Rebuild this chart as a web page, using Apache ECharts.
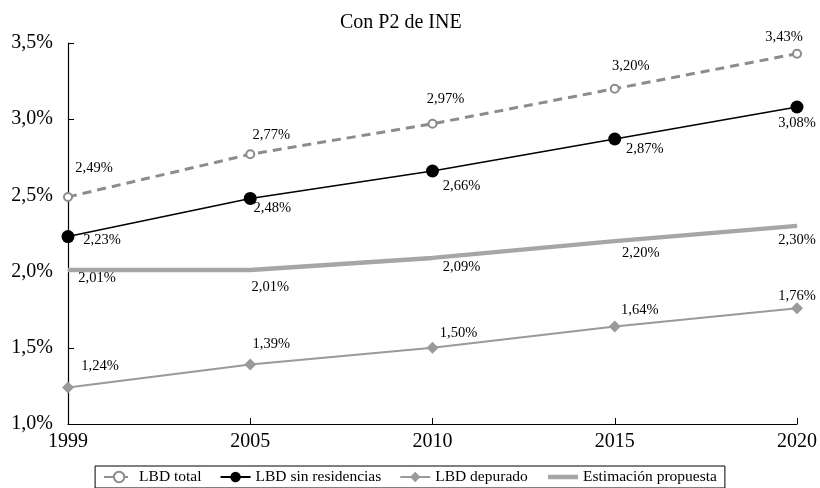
<!DOCTYPE html>
<html>
<head>
<meta charset="utf-8">
<script src="https://cdn.jsdelivr.net/npm/echarts@6/dist/echarts.min.js"></script>
<style>
  html, body { margin: 0; padding: 0; background: #fff; }
  #chart { width: 820px; height: 488px; }
</style>
</head>
<body>
<div id="chart"></div>
<script>
// categorias y valores (en %)
var years = ['1999', '2005', '2010', '2015', '2020'];
var lbdTotal = [2.49, 2.77, 2.97, 3.20, 3.43];
var lbdSinRes = [2.23, 2.48, 2.66, 2.87, 3.08];
var lbdDepurado = [1.24, 1.39, 1.50, 1.64, 1.76];
var estimacion = [2.01, 2.01, 2.09, 2.20, 2.30];

// desplazamientos de las etiquetas (solo estilo)
var offTotal = [[26, -29], [21, -19], [13, -25], [16, -23], [-13, -16]];
var offSin = [[34, 4], [22, 10], [29, 15], [30, 10], [0, 16]];
var offDep = [[32, -21], [21, -20], [26, -15], [25, -16], [0, -12]];
var offEst = [[29, 8], [20, 17], [29, 9], [26, 12], [0, 14]];

var FONT = '"Liberation Serif", "Times New Roman", serif';

function fmt(v) {
    return v.toFixed(2).replace('.', ',') + '%';
}
function withLabels(values, offsets) {
    return values.map(function (v, i) {
        return {
            value: v,
            label: { offset: offsets[i] }
        };
    });
}
var labelBase = {
    show: true,
    position: 'inside',
    fontFamily: FONT,
    fontSize: 14.5,
    color: '#000',
    formatter: function (p) { return fmt(p.value); }
};

var chart = echarts.init(document.getElementById('chart'));
var option = {
    animation: false,
    backgroundColor: '#fff',
    title: {
        text: 'Con P2 de INE',
        left: 335,
        top: 8,
        textStyle: { fontFamily: FONT, fontSize: 20, fontWeight: 'normal', color: '#000' }
    },
    grid: { left: 68, right: 21, top: 43, bottom: 64 },
    legend: {
        top: 466,
        left: 'center',
        padding: [3, 8],
        borderColor: '#000',
        borderWidth: 1,
        itemWidth: 30,
        itemHeight: 13,
        itemGap: 18,
        textStyle: { fontFamily: FONT, fontSize: 15.5, color: '#000' },
        data: [
            'LBD total',
            'LBD sin residencias',
            'LBD depurado',
            { name: 'Estimación propuesta', itemStyle: { opacity: 0 }, lineStyle: { width: 4.5 } }
        ]
    },
    xAxis: {
        type: 'category',
        data: years,
        boundaryGap: false,
        axisLine: { lineStyle: { color: '#000', width: 1.2 } },
        axisTick: { show: true, inside: true, length: 6, lineStyle: { color: '#000' } },
        axisLabel: { fontFamily: FONT, fontSize: 20, color: '#000', margin: 8 }
    },
    yAxis: {
        type: 'value',
        min: 1,
        max: 3.5,
        interval: 0.5,
        splitLine: { show: false },
        axisLine: { show: true, lineStyle: { color: '#000', width: 1.2 } },
        axisTick: { show: true, inside: true, length: 6, lineStyle: { color: '#000' } },
        axisLabel: {
            fontFamily: FONT, fontSize: 20, color: '#000', margin: 15,
            formatter: function (v) { return v.toFixed(1).replace('.', ',') + '%'; }
        }
    },
    series: [
        {
            name: 'LBD total',
            type: 'line',
            data: withLabels(lbdTotal, offTotal),
            symbol: 'emptyCircle',
            symbolSize: 8,
            color: '#8c8c8c',
            itemStyle: { color: '#8c8c8c', borderWidth: 2 },
            lineStyle: { color: '#8c8c8c', width: 3, type: [9, 6] },
            label: labelBase,
            z: 3
        },
        {
            name: 'LBD sin residencias',
            type: 'line',
            data: withLabels(lbdSinRes, offSin),
            symbol: 'circle',
            symbolSize: 13,
            color: '#000',
            itemStyle: { color: '#000' },
            lineStyle: { color: '#000', width: 1.5 },
            label: labelBase,
            z: 4
        },
        {
            name: 'LBD depurado',
            type: 'line',
            data: withLabels(lbdDepurado, offDep),
            symbol: 'diamond',
            symbolSize: 12,
            color: '#9a9a9a',
            itemStyle: { color: '#9a9a9a' },
            lineStyle: { color: '#9a9a9a', width: 2 },
            label: labelBase,
            z: 3
        },
        {
            name: 'Estimación propuesta',
            type: 'line',
            data: withLabels(estimacion, offEst),
            symbol: 'circle',
            symbolSize: 1,
            color: '#a6a6a6',
            itemStyle: { color: '#a6a6a6' },
            lineStyle: { color: '#a6a6a6', width: 4.5 },
            label: labelBase,
            z: 2
        }
    ]
};
chart.setOption(option);
</script>
</body>
</html>
